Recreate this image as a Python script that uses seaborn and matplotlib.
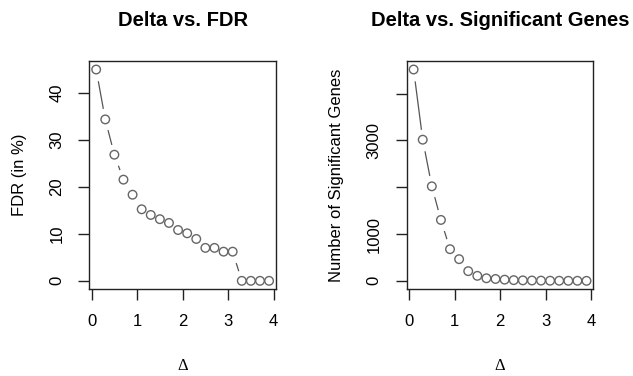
import numpy as np
import pandas as pd
import matplotlib
matplotlib.use("Agg")
from matplotlib import pyplot as plt
import seaborn as sns

# ---- data ----
delta = [0.1, 0.3, 0.5, 0.7, 0.9, 1.1, 1.3, 1.5, 1.7, 1.9,
         2.1, 2.3, 2.5, 2.7, 2.9, 3.1, 3.3, 3.5, 3.7, 3.9]
fdr = [44.9, 34.3, 26.8, 21.5, 18.3, 15.2, 14.0, 13.1, 12.3, 10.8,
       10.1, 8.9, 7.0, 7.0, 6.2, 6.2, 0, 0, 0, 0]
sig_genes = [4514, 3015, 2019, 1301, 676, 463, 207, 107, 55, 40,
             25, 15, 10, 7, 5, 3, 2, 1, 1, 0]

df = pd.DataFrame({'delta': delta, 'fdr': fdr, 'genes': sig_genes})

sns.set_style('white')
plt.rcParams['font.family'] = ['Liberation Sans', 'DejaVu Sans']
plt.rcParams['text.color'] = 'black'
plt.rcParams['axes.labelcolor'] = 'black'
plt.rcParams['xtick.color'] = 'black'
plt.rcParams['ytick.color'] = 'black'

fig = plt.figure(figsize=(6.33, 3.76), dpi=100)
ax1 = fig.add_axes([0.141, 0.2306, 0.295, 0.607])
ax2 = fig.add_axes([0.6425, 0.2306, 0.295, 0.607])


def r_style_plot(ax, ycol, title, ylabel, yticks):
    # line with white masks round each point -> gaps like R type="b"
    sns.lineplot(data=df, x='delta', y=ycol, ax=ax, color='#555555', linewidth=0.9,
                 marker='o', markersize=15, markerfacecolor='white',
                 markeredgecolor='white', zorder=2)
    sns.scatterplot(data=df, x='delta', y=ycol, ax=ax, s=38, facecolor='none',
                    edgecolor='#666666', linewidth=1.0, zorder=3)
    ymax = df[ycol].max()
    pad = ymax * 0.04
    ax.set_xlim(-0.052, 4.052)
    ax.set_ylim(-pad, ymax + pad)
    ax.set_xticks([0, 1, 2, 3, 4])
    ax.set_yticks(yticks)
    ax.set_yticklabels([str(t) for t in yticks], rotation=90, va='center')
    ax.tick_params(axis='both', direction='out', length=8, width=1, color='#222222',
                   labelsize=12, pad=10, bottom=True, left=True)
    for sp in ax.spines.values():
        sp.set_color('#222222')
        sp.set_linewidth(1.0)
    ax.set_title(title, fontsize=14.5, fontweight='bold', pad=25)
    ax.set_ylabel(ylabel, fontsize=12, labelpad=16)
    ax.set_xlabel('Δ', fontsize=12, family='Liberation Serif', labelpad=21)


r_style_plot(ax1, 'fdr', 'Delta vs. FDR', 'FDR (in %)', [0, 10, 20, 30, 40])
r_style_plot(ax2, 'genes', 'Delta vs. Significant Genes', 'Number of Significant Genes',
             [0, 1000, 2000, 3000, 4000])
# R drops the labels that would overlap
ax2.set_yticklabels(['0', '1000', '', '3000', ''], rotation=90, va='center')

plt.savefig('out.png', dpi=100)
